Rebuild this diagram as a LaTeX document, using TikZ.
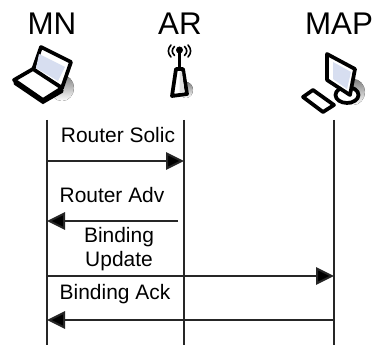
\documentclass[tikz,border=0pt]{standalone}
\usepackage{fontspec}
\setmainfont{Liberation Sans}
\usetikzlibrary{arrows.meta}
\definecolor{shade}{gray}{0.88}
\definecolor{scr}{RGB}{215,222,240}
\tikzset{
  every picture/.style={x=0.75pt,y=-0.75pt},
  head/.style={inner sep=0pt,font=\fontsize{23.5pt}{26pt}\selectfont,anchor=center},
  msg/.style={inner sep=0pt,font=\fontsize{15.7pt}{18pt}\selectfont,align=center,anchor=center},
  life/.style={line width=1.5pt,black!85},
  call/.style={line width=1.5pt,black!85,-{Triangle[length=13.5pt,width=13pt,fill=black]}},
  icon/.style={draw=black,line width=2.8pt,line join=round,line cap=round},
  wave/.style={draw=black,line width=1.2pt,line cap=round}
}
\begin{document}
\begin{tikzpicture}
\useasboundingbox (0,0) rectangle (376,345);
\fill[white] (0,0) rectangle (376,345);
\node[head] (mn) at (52,23.5) {MN};
\node[head] (ar) at (180,23.5) {AR};
\node[head] (map) at (339,23.5) {MAP};
% laptop
\fill[shade] (62,88) ellipse (12 and 13);
\path[icon,fill=white] (41,47) -- (71,62) -- (62,88) -- (33,70) -- cycle;
\path[fill=scr] (39,54) -- (65,67) -- (58,81) -- (36,68) -- cycle;
\path[icon,fill=white] (14,80) -- (33,69) -- (62,88) -- (43,100) -- cycle;
\path[draw=black,line width=2.8pt,line cap=round] (15,83) -- (43,102) -- (62,91);
% antenna
\fill[shade] (186,90) ellipse (7 and 8);
\path[icon,fill=white] (176,69) -- (183,69) -- (187,94) -- (172,96) -- cycle;
\path[fill=shade] (179.5,72) -- (182,72) -- (184.5,92) -- (179.5,93) -- cycle;
\draw[black,line width=2.6pt] (179.5,51) -- (179.5,67);
\fill (179.5,50) circle (3.5);
\path[wave] (174.5,46.5) .. controls (171.5,49.5) and (171.5,52.5) .. (174.5,55.5);
\path[wave] (171,45) .. controls (167.5,49) and (167.5,53) .. (171,57);
\path[wave] (184.5,46.5) .. controls (187.5,49.5) and (187.5,52.5) .. (184.5,55.5);
\path[wave] (188,45) .. controls (191.5,49) and (191.5,53) .. (188,57);
% computer
\fill[shade] (353,92) ellipse (12 and 13);
\path[icon,fill=white] (347,95) ellipse (11.5 and 8);
\path[icon,fill=white] (327,54) -- (355,69) -- (350,95) -- (327,80) -- cycle;
\path[fill=scr] (333,62) -- (351,72) -- (347,89) -- (333,79) -- cycle;
\path[icon,fill=white] (303,97) -- (313,90) -- (334,105) -- (323,112) -- cycle;
% lifelines
\coordinate (mnT) at (46.5,120); \coordinate (mnB) at (46.5,345);
\coordinate (arT) at (184,120); \coordinate (arB) at (184,345);
\coordinate (mapT) at (334,120); \coordinate (mapB) at (334,345);
\draw[life] (mnT) -- (mnB);
\draw[life] (arT) -- (arB);
\draw[life] (mapT) -- (mapB);
% messages
\coordinate (a1) at (46.5,161); \coordinate (b1) at (184,161);
\coordinate (a2) at (178,221); \coordinate (b2) at (47,221);
\coordinate (a3) at (46.5,276); \coordinate (b3) at (334,276);
\coordinate (a4) at (334,320); \coordinate (b4) at (47,320);
\draw[call] (a1) -- (b1);
\draw[call] (a2) -- (b2);
\draw[call] (a3) -- (b3);
\draw[call] (a4) -- (b4);
\node[msg] (t1) at (118,135) {Router Solic};
\node[msg] (t2) at (112,195) {Router Adv};
\node[msg] (t3) at (119,249) {Binding\\Update};
\node[msg] (t4) at (115,294) {Binding Ack};
\end{tikzpicture}
\end{document}
